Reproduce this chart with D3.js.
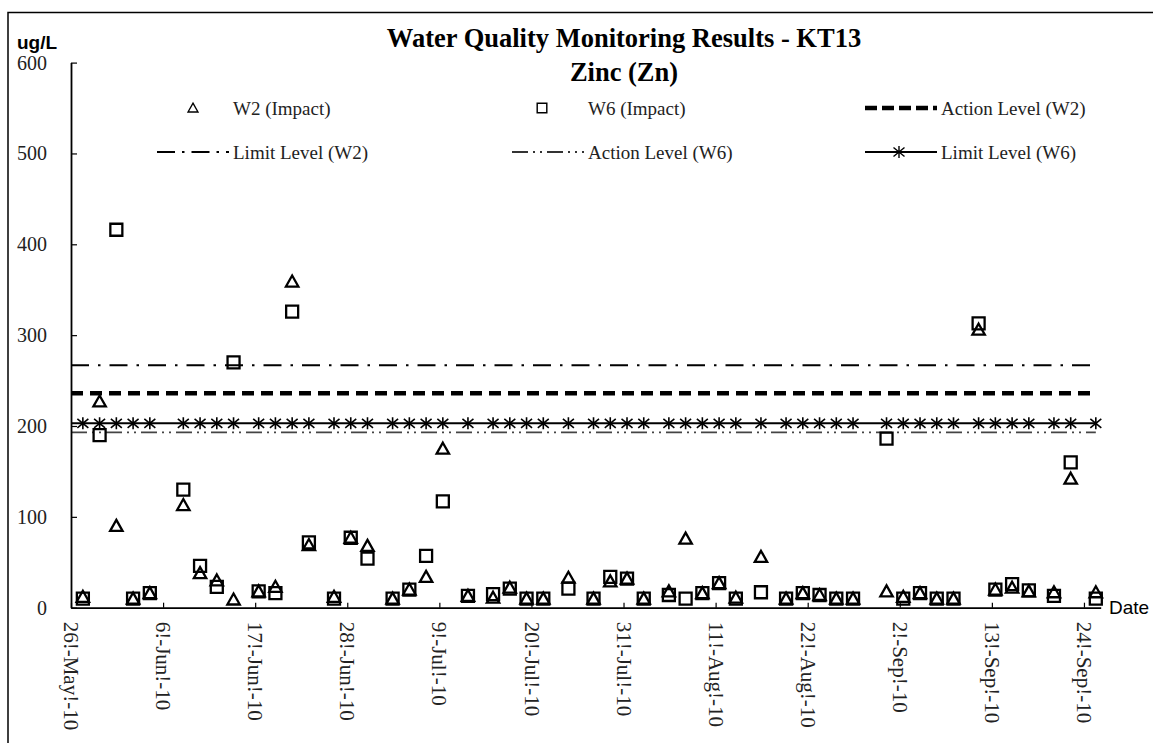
<!DOCTYPE html>
<html>
<head>
<meta charset="utf-8">
<script src="https://cdn.jsdelivr.net/npm/d3@7"></script>
<style>
  body { margin: 0; background: #fff; }
</style>
</head>
<body>
<svg id="chart" width="1153" height="743"></svg>
<script>
// sampling dates (samples taken mid-morning)
var dates = [
  "2010-05-27","2010-05-29","2010-05-31","2010-06-02","2010-06-04","2010-06-08","2010-06-10","2010-06-12",
  "2010-06-14","2010-06-17","2010-06-19","2010-06-21","2010-06-23","2010-06-26","2010-06-28","2010-06-30",
  "2010-07-03","2010-07-05","2010-07-07","2010-07-09","2010-07-12","2010-07-15","2010-07-17","2010-07-19",
  "2010-07-21","2010-07-24","2010-07-27","2010-07-29","2010-07-31","2010-08-02","2010-08-05","2010-08-07",
  "2010-08-09","2010-08-11","2010-08-13","2010-08-16","2010-08-19","2010-08-21","2010-08-23","2010-08-25",
  "2010-08-27","2010-08-31","2010-09-02","2010-09-04","2010-09-06","2010-09-08","2010-09-11","2010-09-13",
  "2010-09-15","2010-09-17","2010-09-20","2010-09-22","2010-09-25"
];
var w2Impact = [
  12, 227, 90, 10, 16, 113, 38, 30,
  9, 18, 23, 359, 69, 12, 77, 68,
  10, 20, 34, 175, 13, 11, 22, 10,
  10, 33, 10, 29, 32, 10, 18, 76,
  16, 27, 11, 56, 10, 16, 14, 10,
  10, 18, 12, 16, 10, 10, 306, 20,
  22, 18, 17, 142, 17
];
var w6Impact = [
  10, 190, 416, 10, 16, 130, 46, 23,
  270, 18, 16, 326, 72, 10, 77, 54,
  10, 20, 57, 117, 13, 15, 21, 10,
  10, 21, 10, 34, 32, 10, 14, 10,
  16, 27, 10, 17, 10, 16, 14, 10,
  10, 186, 10, 16, 10, 10, 313, 20,
  26, 19, 13, 160, 10
];
var actionW2 = 236;
var limitW2 = 267;
var actionW6 = 193;
var limitW6 = 203;

var yTicks = [0, 100, 200, 300, 400, 500, 600];
var tickDates = ["2010-05-26","2010-06-06","2010-06-17","2010-06-28","2010-07-09","2010-07-20",
  "2010-07-31","2010-08-11","2010-08-22","2010-09-02","2010-09-13","2010-09-24"];
var xStart = "2010-05-26", xEnd = "2010-09-26";

var parseDay = d3.timeParse("%Y-%m-%d");
var parseSample = d3.timeParse("%Y-%m-%d %H:%M");
var fmt = d3.timeFormat("%-d!-%b!-%y");

var svg = d3.select("#chart");
var serif = "'Liberation Serif', 'Times New Roman', serif";
var sans = "'Liberation Sans', Arial, sans-serif";

// outer frame
svg.append("rect")
  .attr("x", 8).attr("y", 12.5)
  .attr("width", 1170).attr("height", 760)
  .attr("fill", "none").attr("stroke", "#000").attr("stroke-width", 1.5);

var plotLeft = 71, plotRight = 1100.7, plotTop = 62.6, plotBottom = 607.7;

var x = d3.scaleTime()
  .domain([parseDay(xStart), parseDay(xEnd)])
  .range([plotLeft, plotRight]);
var y = d3.scaleLinear()
  .domain([0, 600])
  .range([plotBottom, plotTop]);

var data = dates.map(function(d, i) {
  return { date: parseSample(d + " 10:00"), w2: w2Impact[i], w6: w6Impact[i] };
});

var g = svg.append("g");

// level lines
var firstX = x.range()[0], lastX = x(data[data.length - 1].date);
function level(v, dash, width, color) {
  g.append("line")
    .attr("x1", firstX).attr("x2", lastX)
    .attr("y1", y(v)).attr("y2", y(v))
    .attr("stroke", color).attr("stroke-width", width)
    .attr("stroke-dasharray", dash);
}
level(actionW6, "16,5,2,5,2,5", 1.6, "#444");
level(limitW6, null, 2, "#000");
level(actionW2, "12,7", 4.5, "#000");
level(limitW2, "18,9,2.5,9", 2, "#000");

var starPath = "M0,-6V6M-5.5,-4.5L5.5,4.5M-5.5,4.5L5.5,-4.5";
var triPath = "M0,-6L6.2,5L-6.2,5Z";
var sqPath = "M-6,-6H6V6H-6Z";

g.selectAll(".star")
  .data(data)
  .enter().append("path")
  .attr("class", "star")
  .attr("transform", d => "translate(" + x(d.date) + "," + y(limitW6) + ")")
  .attr("d", starPath)
  .attr("fill", "none").attr("stroke", "#000").attr("stroke-width", 1.6);

// axes
var yAxis = d3.axisLeft(y).tickValues(yTicks).tickSizeInner(-6).tickSizeOuter(0).tickFormat(d3.format("d"));
var yg = g.append("g")
  .attr("transform", "translate(" + plotLeft + ",0)")
  .call(yAxis);
yg.select(".domain").attr("stroke-width", 1.8);
yg.selectAll(".tick line").attr("stroke-width", 1.2);
yg.selectAll(".tick text")
  .attr("x", -24)
  .style("font-family", serif).style("font-size", "20px").attr("fill", "#222");

var xAxis = d3.axisBottom(x)
  .tickValues(tickDates.map(parseDay))
  .tickSizeInner(-5).tickSizeOuter(0)
  .tickFormat(fmt);
var xg = g.append("g")
  .attr("transform", "translate(0," + plotBottom + ")")
  .call(xAxis);
xg.select(".domain").attr("stroke-width", 1.8);
xg.selectAll(".tick line").attr("stroke-width", 1.2);
xg.selectAll(".tick text")
  .attr("transform", "rotate(90)")
  .attr("x", 14).attr("y", 0).attr("dy", "0.35em")
  .attr("text-anchor", "start")
  .style("font-family", serif).style("font-size", "21px").attr("fill", "#222");

// data markers
g.selectAll(".sq")
  .data(data)
  .enter().append("path")
  .attr("class", "sq")
  .attr("transform", d => "translate(" + x(d.date) + "," + y(d.w6) + ")")
  .attr("d", sqPath)
  .attr("fill", "none").attr("stroke", "#000").attr("stroke-width", 2.3);

g.selectAll(".tri")
  .data(data)
  .enter().append("path")
  .attr("class", "tri")
  .attr("transform", d => "translate(" + x(d.date) + "," + y(d.w2) + ")")
  .attr("d", triPath)
  .attr("fill", "none").attr("stroke", "#000").attr("stroke-width", 2.3);

// titles
svg.append("text")
  .attr("x", 624).attr("y", 47)
  .attr("text-anchor", "middle")
  .style("font-family", serif).style("font-size", "26.5px").style("font-weight", "bold")
  .text("Water Quality Monitoring Results - KT13");
svg.append("text")
  .attr("x", 624).attr("y", 81)
  .attr("text-anchor", "middle")
  .style("font-family", serif).style("font-size", "26.5px").style("font-weight", "bold")
  .text("Zinc (Zn)");

svg.append("text")
  .attr("x", 17).attr("y", 49)
  .style("font-family", sans).style("font-size", "19px").style("font-weight", "bold")
  .text("ug/L");
svg.append("text")
  .attr("x", 1109).attr("y", 614)
  .style("font-family", sans).style("font-size", "19px")
  .text("Date");

// legend
var legend = [
  { label: "W2 (Impact)", col: 0, row: 0, type: "tri" },
  { label: "W6 (Impact)", col: 1, row: 0, type: "sq" },
  { label: "Action Level (W2)", col: 2, row: 0, type: "line", dash: "12,5", width: 4.5, color: "#000" },
  { label: "Limit Level (W2)", col: 0, row: 1, type: "line", dash: "18,7,2.5,7", width: 2, color: "#000" },
  { label: "Action Level (W6)", col: 1, row: 1, type: "line", dash: "16,5,2,5,2,5", width: 1.8, color: "#333" },
  { label: "Limit Level (W6)", col: 2, row: 1, type: "star" }
];
var colX = [233, 588, 941], rowY = [108, 152];

var lg = svg.selectAll(".legend")
  .data(legend)
  .enter().append("g")
  .attr("class", "legend")
  .attr("transform", d => "translate(" + colX[d.col] + "," + rowY[d.row] + ")");

lg.filter(d => d.type == "line" || d.type == "star")
  .append("line")
  .attr("x1", -76).attr("x2", -4)
  .attr("stroke", d => d.color || "#000")
  .attr("stroke-width", d => d.width || 2)
  .attr("stroke-dasharray", d => d.dash || null);
lg.filter(d => d.type == "star")
  .append("path")
  .attr("transform", "translate(-42,0)")
  .attr("d", starPath)
  .attr("fill", "none").attr("stroke", "#000").attr("stroke-width", 1.4);
lg.filter(d => d.type == "tri")
  .append("path")
  .attr("transform", "translate(-40,0) scale(0.8)")
  .attr("d", triPath)
  .attr("fill", "none").attr("stroke", "#000").attr("stroke-width", 1.7);
lg.filter(d => d.type == "sq")
  .append("path")
  .attr("transform", "translate(-46,0) scale(0.8)")
  .attr("d", sqPath)
  .attr("fill", "none").attr("stroke", "#000").attr("stroke-width", 1.8);
lg.append("text")
  .attr("x", 0).attr("dy", "0.35em")
  .style("font-family", serif).style("font-size", "19px").attr("fill", "#222")
  .text(d => d.label);
</script>
</body>
</html>
